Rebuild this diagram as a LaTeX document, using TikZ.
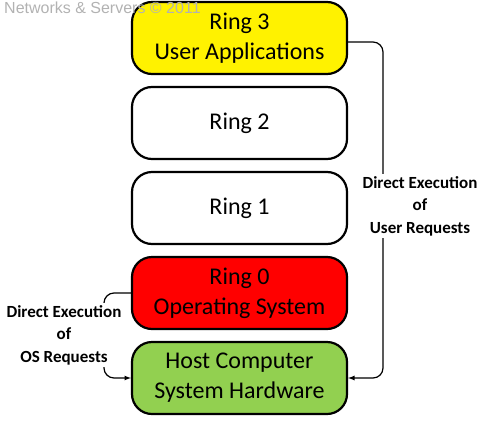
\documentclass[tikz,border=0pt]{standalone}
\usepackage{fontspec}
\setmainfont{Carlito}
\newfontfamily\markfont{Liberation Sans}
\begin{document}
\begin{tikzpicture}[x=1pt, y=-1pt, >=latex,
  ring/.style = {draw, line width=2.2pt, rounded corners=20pt, minimum width=215pt, minimum height=72pt, align=center, font=\fontsize{24}{30}\selectfont},
  link/.style = {line width=1.2pt, rounded corners=10pt},
  note/.style = {fill=white, align=center, inner sep=2pt, font=\fontsize{17}{22.5}\selectfont\bfseries}]
  \useasboundingbox (0, 0) rectangle (486, 420);
  \node[ring, fill=yellow] at (239.5, 38) (ring3) {Ring 3\\User Applications};
  \node[ring] at (239.5, 123) (ring2) {Ring 2};
  \node[ring] at (239.5, 208) (ring1) {Ring 1};
  \node[ring, fill=red] at (239.5, 293) (ring0) {Ring 0\\Operating System};
  \node[ring, fill={rgb,255:red,146;green,208;blue,80}] at (239.5, 378) (host) {Host Computer\\System Hardware};
  \node[anchor=north west, text=black!30, inner sep=0, font=\markfont\fontsize{16}{18}\selectfont] at (4, 2) (mark) {Networks \& Servers \textcopyright{} 2011};
  \coordinate (right-top) at (383, 42);
  \coordinate (left-top) at (104, 293);
  \draw[link, ->] (ring3.east |- right-top) -- (right-top) |- (host.east);
  \draw[link, ->] (ring0.west) -- (left-top) |- (host.west);
  \node[note] at (420, 206) (label1) {Direct Execution\\of\\User Requests};
  \node[note] at (64, 335) (label2) {Direct Execution\\of\\OS Requests};
\end{tikzpicture}
\end{document}
